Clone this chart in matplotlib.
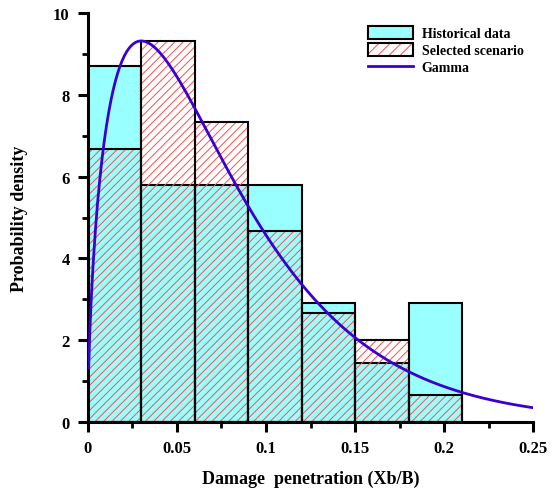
import math
import numpy as np
import matplotlib
matplotlib.use("Agg")
import matplotlib.pyplot as plt
from matplotlib.patches import Patch
from matplotlib.lines import Line2D
from matplotlib.legend_handler import HandlerTuple
from matplotlib.ticker import MultipleLocator, FormatStrFormatter

plt.rcParams['font.family'] = ['Liberation Serif', 'DejaVu Serif']
plt.rcParams['font.weight'] = 'bold'
plt.rcParams['hatch.linewidth'] = 0.7

# bin edges of damage penetration ratio Xb/B
bin_edges = [0, 0.03, 0.06, 0.09, 0.12, 0.15, 0.18, 0.21]
# densities (counts 6,4,4,4,2,1,2 of 23 and 10,14,11,7,4,3,1 of 50)
hist_density = [8.70, 5.80, 5.80, 5.80, 2.90, 1.45, 2.90]
scen_density = [6.67, 9.33, 7.33, 4.67, 2.67, 2.00, 0.67]

# fitted gamma distribution
gamma_shape = 1.63
gamma_scale = 0.0476

cyan = '#99ffff'
red = '#ff4d4d'
blue = '#3a00d0'

left = np.array(bin_edges[:-1])
width = np.diff(bin_edges)

fig = plt.figure(figsize=(5.52, 4.89), dpi=100)
ax = fig.add_axes([0.159, 0.135, 0.807, 0.836])

ax.bar(left, hist_density, width=width, align='edge', color=cyan,
       edgecolor='black', linewidth=1.5, zorder=1)
ax.bar(left, scen_density, width=width, align='edge', facecolor='none',
       edgecolor=red, hatch='////', linewidth=0, zorder=2)
ax.bar(left, scen_density, width=width, align='edge', facecolor='none',
       edgecolor='black', linewidth=1.5, zorder=3)

xg = np.linspace(0.0005, 0.25, 400)
pdf = (xg ** (gamma_shape - 1) * np.exp(-xg / gamma_scale)
       / (math.gamma(gamma_shape) * gamma_scale ** gamma_shape))
ax.plot(xg, pdf, color=blue, linewidth=2, zorder=4)

ax.set_xlim(0, 0.25)
ax.set_ylim(0, 10)
ax.spines['top'].set_visible(False)
ax.spines['right'].set_visible(False)
for s in ['left', 'bottom']:
    ax.spines[s].set_linewidth(2.2)

ax.xaxis.set_major_locator(MultipleLocator(0.05))
ax.xaxis.set_minor_locator(MultipleLocator(0.025))
ax.yaxis.set_major_locator(MultipleLocator(2))
ax.yaxis.set_minor_locator(MultipleLocator(1))
ax.xaxis.set_major_formatter(FormatStrFormatter('%g'))
ax.tick_params(which='major', direction='out', length=7, width=2.2,
               labelsize=12, pad=6)
ax.tick_params(which='minor', direction='out', length=4, width=2)
for lab in ax.get_xticklabels() + ax.get_yticklabels():
    lab.set_fontweight('bold')

ax.set_xlabel('Damage  penetration (Xb/B)', fontsize=13, fontweight='bold',
              labelpad=10)
ax.set_ylabel('Probability density', fontsize=13, fontweight='bold',
              labelpad=18)

h_hist = Patch(facecolor=cyan, edgecolor='black', linewidth=1.5)
h_scen = (Patch(facecolor='white', edgecolor=red, hatch='///', linewidth=0),
          Patch(facecolor='none', edgecolor='black', linewidth=1.5))
h_gam = Line2D([], [], color=blue, linewidth=2)
ax.legend([h_hist, h_scen, h_gam],
          ['Historical data', 'Selected scenario', 'Gamma'],
          handler_map={tuple: HandlerTuple(ndivide=1, pad=0)},
          loc='upper left', bbox_to_anchor=(0.6, 1.0), frameon=False,
          prop={'weight': 'bold', 'size': 10}, handlelength=3.3,
          handleheight=1.1, labelspacing=0.2, handletextpad=0.6)

fig.savefig('out.png', dpi=100)
